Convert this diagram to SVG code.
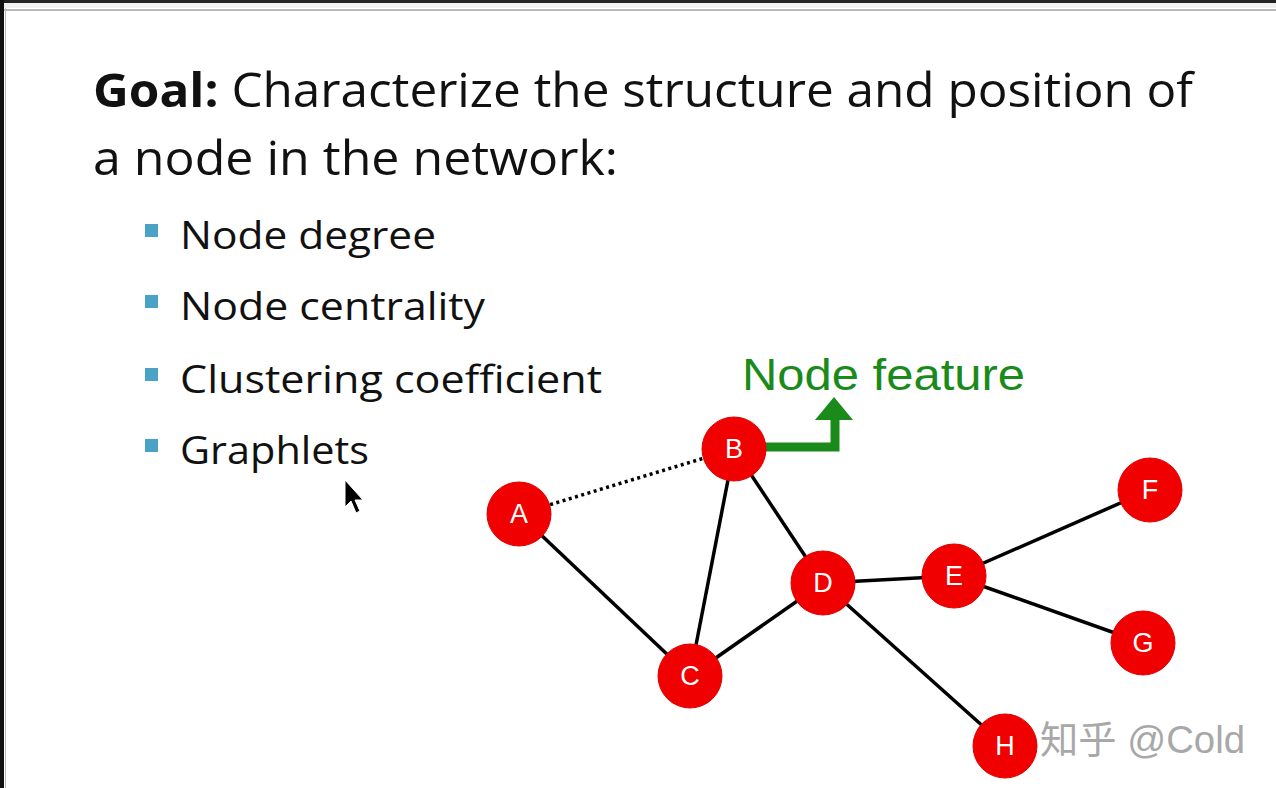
<svg xmlns="http://www.w3.org/2000/svg" width="1276" height="788" viewBox="0 0 1276 788">
<style>
.t{font-family:"Open Sans","Noto Sans","Liberation Sans",sans-serif;fill:#111}
.nd circle{fill:#f00000;stroke:#e00000;stroke-width:1}
.nd text{font-family:"Liberation Sans",Arial,sans-serif;font-size:27px;fill:#fff;text-anchor:middle}
.e{stroke:#000;stroke-width:3.5;fill:none}
.b{fill:#4aa3c4}
</style>
<rect width="1276" height="788" fill="#fff"/>
<rect x="0" y="0" width="1276" height="3" fill="#222"/>
<rect x="0" y="3" width="1276" height="5" fill="#f0f0f0"/>
<rect x="0" y="9" width="1276" height="2" fill="#b8b8b8"/>
<rect x="0" y="0" width="4" height="788" fill="#111"/>
<rect x="5" y="8" width="1" height="780" fill="#bbb"/>
<g id="title">
<text class="t" x="93" y="107" font-size="47" textLength="1100" lengthAdjust="spacingAndGlyphs"><tspan font-weight="bold">Goal:</tspan> Characterize the structure and position of</text>
<text class="t" x="93" y="175" font-size="47" textLength="525" lengthAdjust="spacingAndGlyphs">a node in the network:</text>
</g>
<g id="bullets">
<rect class="b" x="145" y="224" width="13" height="13"/>
<rect class="b" x="145" y="295" width="13" height="13"/>
<rect class="b" x="145" y="368" width="13" height="13"/>
<rect class="b" x="145" y="439" width="13" height="13"/>
<text class="t" x="180" y="249" font-size="39" textLength="256" lengthAdjust="spacingAndGlyphs">Node degree</text>
<text class="t" x="180" y="320" font-size="39" textLength="305" lengthAdjust="spacingAndGlyphs">Node centrality</text>
<text class="t" x="180" y="393" font-size="39" textLength="422" lengthAdjust="spacingAndGlyphs">Clustering coefficient</text>
<text class="t" x="180" y="464" font-size="39" textLength="189" lengthAdjust="spacingAndGlyphs">Graphlets</text>
</g>
<path d="M345 480 L345 507 L351 501 L356 513 L360 511 L355 500 L363 500 Z" fill="#000" stroke="#fff" stroke-width="1"/>
<g id="connectors">
<line class="e" x1="519" y1="514" x2="734" y2="449" stroke-dasharray="3 3.5"/>
<line class="e" x1="519" y1="514" x2="690" y2="676"/>
<line class="e" x1="734" y1="449" x2="690" y2="676"/>
<line class="e" x1="734" y1="449" x2="823" y2="583"/>
<line class="e" x1="690" y1="676" x2="823" y2="583"/>
<line class="e" x1="823" y1="583" x2="954" y2="576"/>
<line class="e" x1="823" y1="583" x2="1005" y2="746"/>
<line class="e" x1="954" y1="576" x2="1150" y2="490"/>
<line class="e" x1="954" y1="576" x2="1143" y2="643"/>
</g>
<g id="feature">
<path d="M762 447 H835 V418" stroke="#1a8a1a" stroke-width="9" fill="none"/>
<polygon points="815,420 853,420 834,397" fill="#1a8a1a"/>
<text x="742" y="390" font-family="'Liberation Sans',Arial,sans-serif" font-size="45" fill="#1a8a1a" textLength="283" lengthAdjust="spacingAndGlyphs">Node feature</text>
</g>
<g id="A" class="nd"><circle cx="519" cy="514" r="32"/><text x="519" y="523">A</text></g>
<g id="B" class="nd"><circle cx="734" cy="449" r="32"/><text x="734" y="458">B</text></g>
<g id="C" class="nd"><circle cx="690" cy="676" r="32"/><text x="690" y="685">C</text></g>
<g id="D" class="nd"><circle cx="823" cy="583" r="32"/><text x="823" y="592">D</text></g>
<g id="E" class="nd"><circle cx="954" cy="576" r="32"/><text x="954" y="585">E</text></g>
<g id="F" class="nd"><circle cx="1150" cy="490" r="32"/><text x="1150" y="499">F</text></g>
<g id="G" class="nd"><circle cx="1143" cy="643" r="32"/><text x="1143" y="652">G</text></g>
<g id="H" class="nd"><circle cx="1005" cy="746" r="32"/><text x="1005" y="755">H</text></g>
<text x="1040" y="753" font-family="'Liberation Sans','Noto Sans CJK SC',sans-serif" font-size="38" fill="#a8a8a8" textLength="205" lengthAdjust="spacingAndGlyphs">知乎 @Cold</text>
</svg>
